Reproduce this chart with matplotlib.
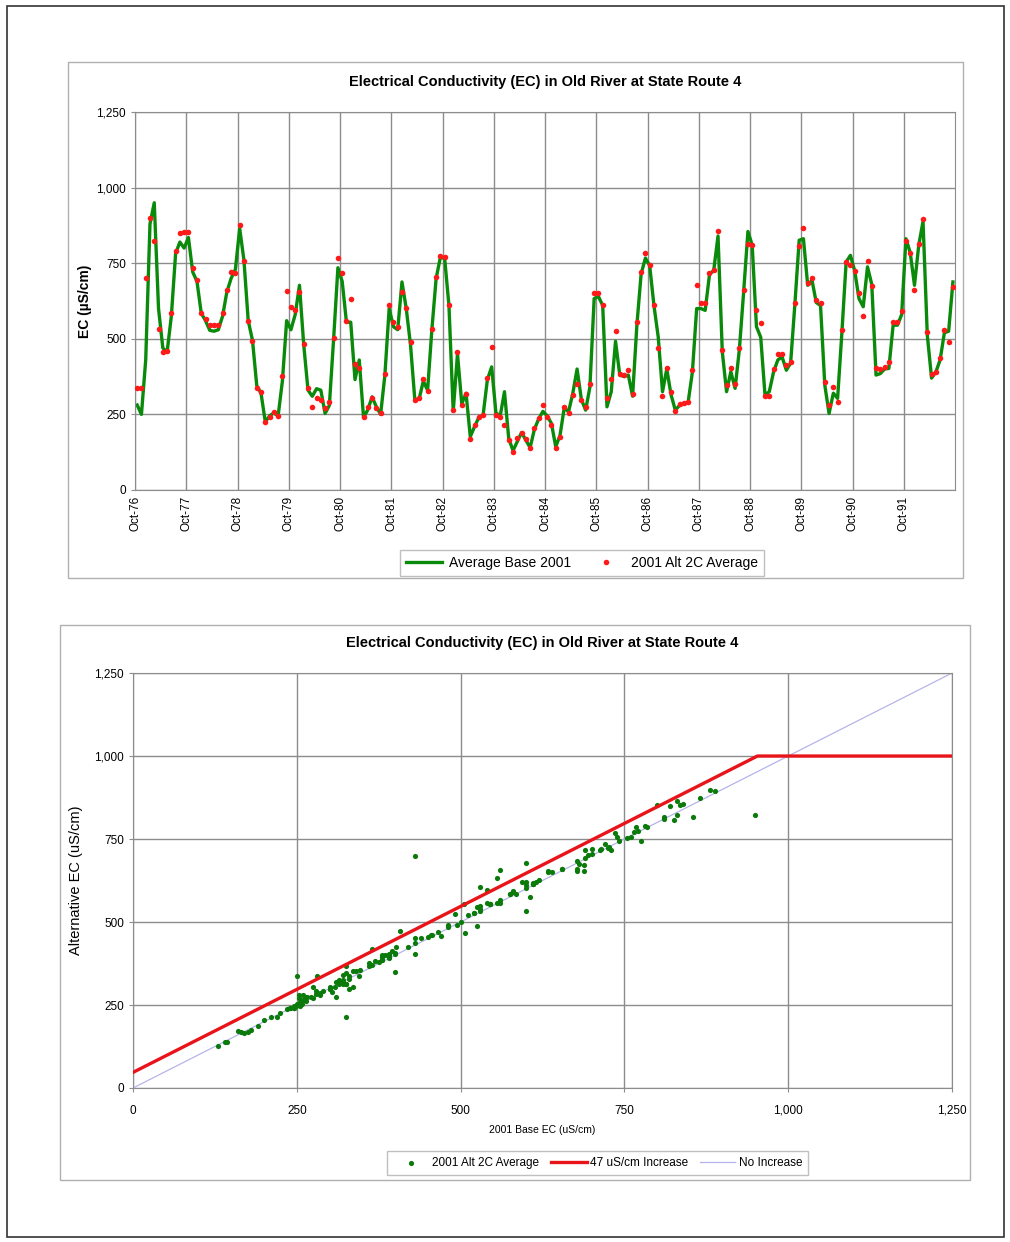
import numpy as np
import matplotlib
matplotlib.use('Agg')
import matplotlib.pyplot as plt
from matplotlib.patches import Rectangle
from matplotlib.ticker import StrMethodFormatter

plt.rcParams['font.family'] = ['Liberation Sans', 'DejaVu Sans']

# Monthly EC, Oct-76 .. Sep-92 (192 months)
base_ec = [
    281, 250, 430, 880, 950, 600, 470, 455, 575, 782, 820, 800,
    835, 721, 690, 585, 560, 528, 525, 530, 575, 655, 700, 730,
    865, 760, 560, 495, 345, 320, 225, 245, 255, 245, 360, 560,
    530, 580, 677, 480, 330, 310, 335, 330, 253, 280, 500, 735,
    690, 555, 555, 365, 430, 240, 265, 308, 275, 250, 380, 600,
    540, 530, 688, 600, 480, 300, 300, 360, 330, 530, 700, 770,
    765, 610, 260, 450, 285, 320, 176, 210, 240, 248, 365, 407,
    255, 245, 325, 170, 130, 160, 190, 165, 140, 200, 235, 260,
    245, 220, 143, 180, 272, 258, 320, 400, 300, 264, 340, 633,
    640, 610, 275, 325, 492, 380, 375, 380, 310, 545, 715, 767,
    742, 610, 506, 325, 400, 315, 264, 280, 286, 290, 390, 600,
    600, 594, 712, 727, 840, 457, 325, 391, 336, 465, 655, 855,
    810, 540, 505, 314, 325, 390, 430, 440, 396, 420, 615, 826,
    831, 677, 694, 620, 610, 347, 253, 320, 303, 520, 754, 776,
    725, 633, 606, 738, 680, 380, 385, 400, 402, 545, 545, 580,
    831, 785, 677, 810, 888, 512, 370, 390, 430, 520, 525, 688,
]
alt_ec = [
    336, 336, 700, 899, 822, 532, 457, 460, 584, 789, 850, 852,
    852, 734, 694, 584, 567, 545, 545, 547, 584, 661, 720, 716,
    875, 756, 558, 492, 338, 325, 226, 242, 259, 246, 378, 657,
    605, 594, 655, 484, 336, 275, 303, 297, 270, 292, 501, 767,
    716, 558, 633, 418, 404, 242, 275, 303, 270, 253, 385, 611,
    556, 540, 655, 602, 490, 297, 303, 367, 327, 534, 705, 774,
    770, 613, 264, 455, 281, 319, 168, 215, 242, 248, 369, 473,
    248, 242, 215, 165, 127, 171, 187, 168, 138, 204, 238, 281,
    240, 215, 138, 176, 275, 253, 314, 349, 297, 275, 352, 650,
    650, 613, 305, 367, 525, 385, 380, 396, 319, 554, 721, 785,
    745, 613, 468, 312, 404, 325, 261, 283, 286, 292, 396, 677,
    620, 620, 716, 727, 855, 462, 347, 404, 352, 470, 661, 815,
    811, 595, 553, 312, 312, 400, 451, 451, 413, 424, 620, 807,
    866, 683, 701, 628, 617, 356, 281, 341, 290, 528, 754, 745,
    723, 653, 576, 756, 675, 402, 400, 407, 424, 554, 554, 591,
    822, 785, 661, 815, 895, 521, 382, 391, 437, 528, 488, 672,
]
year_labels = ['Oct-76', 'Oct-77', 'Oct-78', 'Oct-79', 'Oct-80', 'Oct-81', 'Oct-82', 'Oct-83',
               'Oct-84', 'Oct-85', 'Oct-86', 'Oct-87', 'Oct-88', 'Oct-89', 'Oct-90', 'Oct-91']

# standard lines in the scatter
limit_x = [0, 953, 1250]
limit_y = [47, 1000, 1000]
equal_xy = [0, 1250]

TITLE = 'Electrical Conductivity (EC) in Old River at State Route 4'
GREEN = '#0a8a0a'
GRID = '#8c8c8c'

fig = plt.figure(figsize=(10.1, 12.42), dpi=100)

# outer frame and panel frames
fig.patches.append(Rectangle((0.007, 0.004), 0.987, 0.991, transform=fig.transFigure,
                             fill=False, edgecolor='#333333', linewidth=1.2))
fig.patches.append(Rectangle((0.0673, 0.5346), 0.886, 0.4155, transform=fig.transFigure,
                             fill=False, edgecolor='#b0b0b0', linewidth=1))
fig.patches.append(Rectangle((0.0594, 0.0499), 0.901, 0.4469, transform=fig.transFigure,
                             fill=False, edgecolor='#b0b0b0', linewidth=1))

# ---- top: time series ----
ax1 = fig.add_axes([0.1337, 0.6055, 0.8119, 0.3043])
months = np.arange(len(base_ec)) + 0.5
ln, = ax1.plot(months, base_ec, color=GREEN, linewidth=2.4, label='Average Base 2001', zorder=2)
pt, = ax1.plot(months, alt_ec, linestyle='none', marker='o', markersize=4, color='#ff1a1a',
               markeredgewidth=0, label='2001 Alt 2C Average', zorder=3)
ax1.set_xlim(0, len(base_ec))
ax1.set_ylim(0, 1250)
ax1.set_yticks(np.arange(0, 1251, 250))
ax1.yaxis.set_major_formatter(StrMethodFormatter('{x:,.0f}'))
ax1.set_xticks(np.arange(len(year_labels)) * 12)
ax1.set_xticklabels(year_labels, rotation=90, fontsize=8.5)
ax1.tick_params(axis='y', labelsize=8.5, length=3, color=GRID)
ax1.tick_params(axis='x', length=0, pad=4)
ax1.grid(color=GRID, linewidth=1)
ax1.set_axisbelow(True)
for s in ax1.spines.values():
    s.set_color(GRID)
ax1.set_ylabel('EC (µS/cm)', fontsize=10, fontweight='bold', labelpad=3)
ax1.set_title(TITLE, fontsize=10.5, fontweight='bold', pad=19)
fig.legend(handles=[ln, pt], loc='center', bbox_to_anchor=(0.576, 0.5467), ncol=2,
           fontsize=10, frameon=True, fancybox=False, edgecolor='#b0b0b0',
           handlelength=2.6, handletextpad=0.5, columnspacing=1.2, borderpad=0.45)

# ---- bottom: scatter ----
ax2 = fig.add_axes([0.1317, 0.124, 0.8109, 0.3341])
sc = ax2.scatter(base_ec, alt_ec, s=14, color='#0a7a0a', linewidths=0,
                 label='2001 Alt 2C Average', zorder=3)
rl, = ax2.plot(limit_x, limit_y, color='#e8141a', linewidth=2.4, label='47 uS/cm Increase', zorder=4)
bl, = ax2.plot(equal_xy, equal_xy, color='#b4b4ea', linewidth=0.9, label='No Increase', zorder=2)
ax2.set_xlim(0, 1250)
ax2.set_ylim(0, 1250)
ax2.set_xticks(np.arange(0, 1251, 250))
ax2.set_yticks(np.arange(0, 1251, 250))
ax2.xaxis.set_major_formatter(StrMethodFormatter('{x:,.0f}'))
ax2.yaxis.set_major_formatter(StrMethodFormatter('{x:,.0f}'))
ax2.tick_params(labelsize=8.5, length=3, color=GRID)
ax2.tick_params(axis='x', pad=9)
ax2.grid(color=GRID, linewidth=1)
ax2.set_axisbelow(True)
for s in ax2.spines.values():
    s.set_color(GRID)
ax2.set_xlabel('2001 Base EC (uS/cm)', fontsize=7.5, labelpad=6)
ax2.set_ylabel('Alternative EC (uS/cm)', fontsize=10.5, labelpad=8)
ax2.set_title(TITLE, fontsize=10.5, fontweight='bold', pad=19)
fig.legend(handles=[sc, rl, bl], loc='center', bbox_to_anchor=(0.592, 0.0636), ncol=3,
           fontsize=8.5, frameon=True, fancybox=False, edgecolor='#b0b0b0',
           handlelength=3, columnspacing=1.0, handletextpad=0.3, borderpad=0.5)

plt.savefig('out.png', dpi=100)
